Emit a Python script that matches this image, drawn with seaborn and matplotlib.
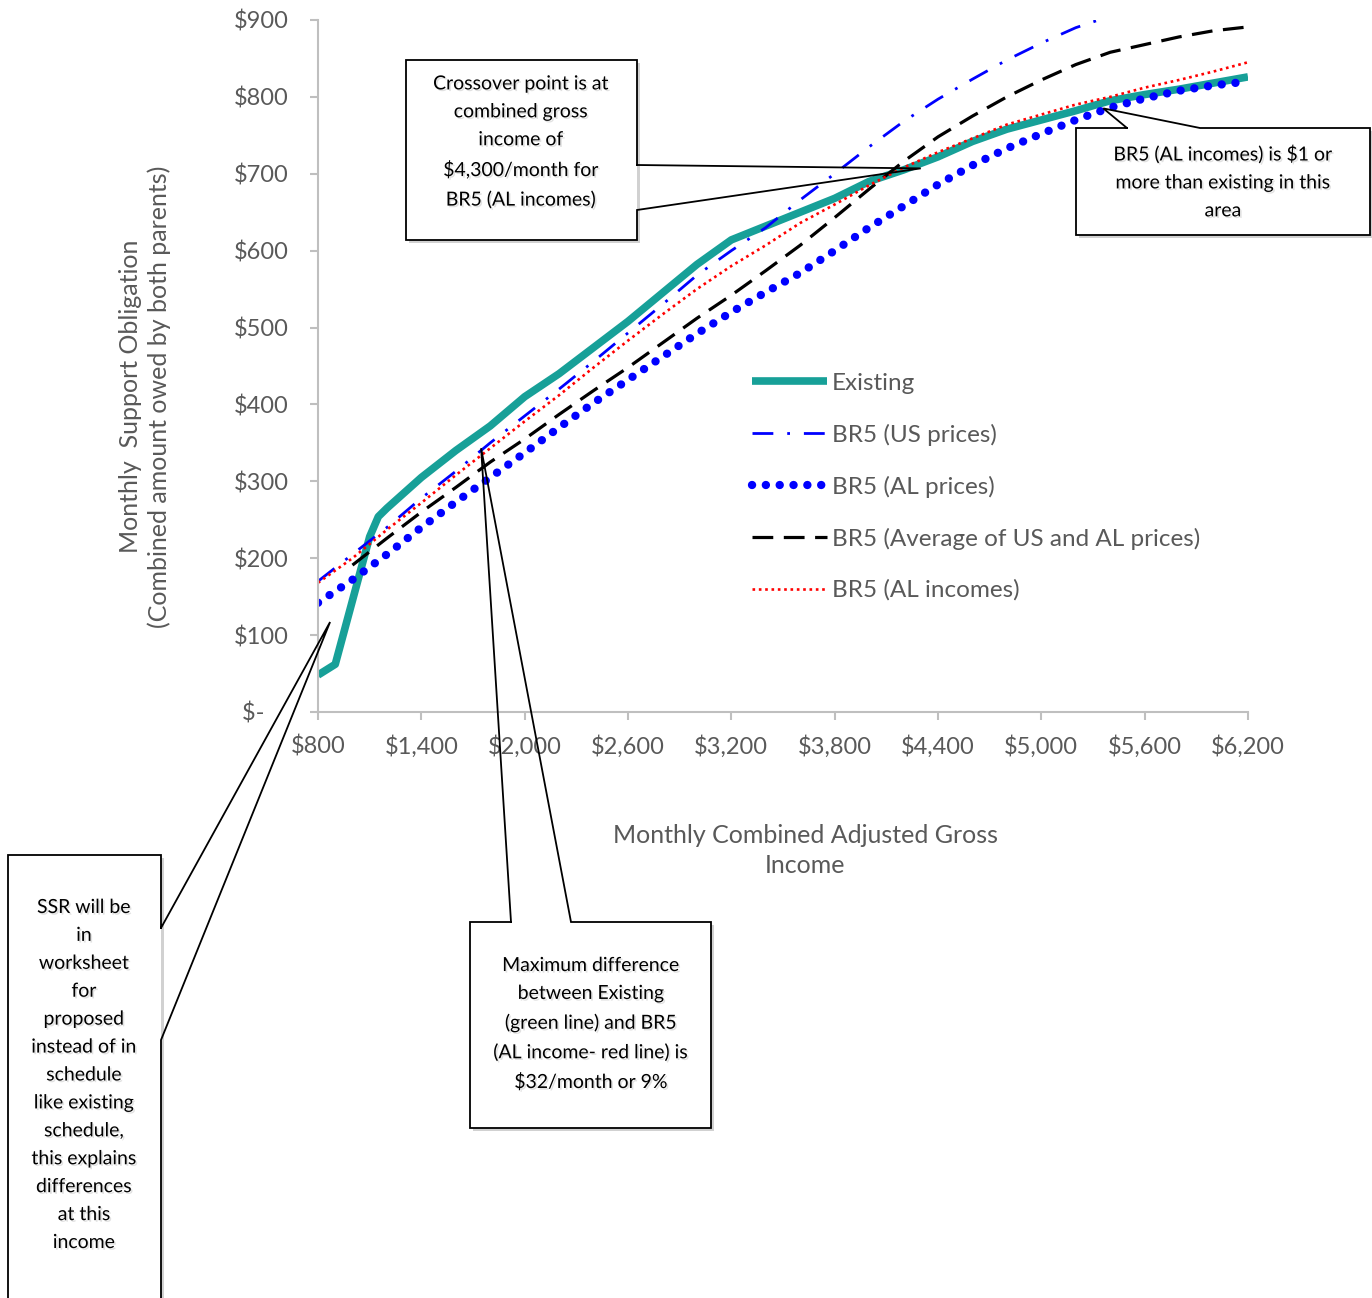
import numpy as np
import pandas as pd
import seaborn as sns
import matplotlib.pyplot as plt
import matplotlib.patheffects as pe
from matplotlib.patches import Rectangle

# monthly combined adjusted gross income
income = list(range(800, 6201, 200))
existing_income = [800, 900, 1000, 1100, 1150, 1200] + list(range(1400, 6201, 200))
avg_income = list(range(1000, 6201, 200))

existing = [48, 62, 145, 228, 254, 265, 305, 340, 372, 410, 440, 474, 508, 545, 582,
            614, 632, 650, 668, 690, 705, 722, 742, 758, 770, 782, 795, 803, 810, 818, 826]
us_prices = [170, 205, 240, 278, 313, 350, 385, 420, 456, 493, 530, 568, 600, 630, 666,
             700, 735, 768, 797, 823, 848, 870, 890, 905, 920, 935, 948, 960]
al_prices = [142, 172, 205, 240, 273, 305, 337, 370, 402, 432, 462, 492, 520, 546, 571,
             600, 630, 658, 686, 711, 733, 752, 770, 786, 798, 808, 815, 820]
avg_prices = [191, 226, 260, 292, 325, 355, 387, 418, 448, 480, 512, 542, 574, 607, 643,
              680, 716, 748, 775, 800, 822, 842, 858, 868, 878, 886, 891]
al_incomes = [168, 200, 237, 272, 308, 343, 378, 412, 448, 483, 517, 550, 580, 607, 636,
              660, 685, 708, 728, 746, 764, 777, 790, 800, 812, 822, 833, 845]

xticks = list(range(800, 6201, 600))
yticks = list(range(0, 901, 100))

sns.set_theme(style="ticks")
plt.rcParams['font.family'] = ['Lato', 'DejaVu Sans']
grey = '#595959'

fig = plt.figure(figsize=(13.72, 12.98), dpi=100)
ax = fig.add_axes([0.2318, 0.4515, 0.6778, 0.5331])

sns.lineplot(x=existing_income, y=existing, ax=ax, color='#17a098', lw=5.5,
             label='Existing', solid_capstyle='butt')
sns.lineplot(x=income, y=us_prices, ax=ax, color='#0000ff', lw=2,
             linestyle=(0, (7.5, 5, 1, 5)), label='BR5 (US prices)')
sns.lineplot(x=income, y=al_prices, ax=ax, color='#0000ff', lw=6,
             linestyle=(0, (0.01, 1.65)), dash_capstyle='round', label='BR5 (AL prices)')
sns.lineplot(x=avg_income, y=avg_prices, ax=ax, color='black', lw=2.3,
             linestyle=(0, (6.5, 3.3)), label='BR5 (Average of US and AL prices)')
sns.lineplot(x=income, y=al_incomes, ax=ax, color='#ff0000', lw=1.9,
             linestyle=(0, (1, 1.4)), label='BR5 (AL incomes)')

ax.set_xlim(800, 6200)
ax.set_ylim(0, 900)
ax.set_xticks(xticks)
ax.set_xticklabels(['$' + format(v, ',') for v in xticks])
ax.set_yticks(yticks)
ax.set_yticklabels(['$-    ' if v == 0 else '$' + str(v) for v in yticks])
sns.despine(ax=ax)
for s in ['left', 'bottom']:
    ax.spines[s].set_color('#bfbfbf')
    ax.spines[s].set_linewidth(1.5)
ax.tick_params(axis='both', color='#bfbfbf', labelcolor=grey, labelsize=17,
               length=6, width=1.5)
ax.tick_params(axis='y', pad=15)
ax.tick_params(axis='x', pad=11)

ax.set_ylabel('Monthly  Support Obligation\n(Combined amount owed by both parents)',
              fontsize=18, color=grey, va='center', linespacing=1.3)
ax.yaxis.set_label_coords(-0.186, 0.456)
ax.set_xlabel('Monthly Combined Adjusted Gross\nIncome', fontsize=18, color=grey,
              va='center', linespacing=1.4)
ax.xaxis.set_label_coords(0.524, -0.2)

leg = ax.legend(loc='upper left', bbox_to_anchor=(0.443, 0.522), frameon=False,
                fontsize=17.5, handlelength=3.1, handletextpad=0.2, labelspacing=1.23)
for t in leg.get_texts():
    t.set_color(grey)

# overlay in pixel coordinates for the callouts
ov = fig.add_axes([0, 0, 1, 1], zorder=10)
ov.set_xlim(0, 1372)
ov.set_ylim(1298, 0)
ov.axis('off')
ov.patch.set_alpha(0)

text_fx = [pe.SimplePatchShadow(offset=(1.2, -1.2), shadow_rgbFace='#aaaaaa', alpha=0.35),
           pe.Normal()]


def px(x, y):
    dx, dy = ax.transData.transform((x, y))
    return dx, 1298 - dy


def callout(box, outline, text, cx, cy, fs=14, ls=1.78):
    x0, y0, x1, y1 = box
    ov.add_patch(Rectangle((x0 + 3, y0 + 3), x1 - x0, y1 - y0, fc='#9a9a9a', ec='none', alpha=0.45))
    ov.add_patch(Rectangle((x0, y0), x1 - x0, y1 - y0, fc='white', ec='none'))
    xs, ys = zip(*outline)
    ov.plot(xs, ys, color='black', lw=1.3, solid_joinstyle='miter')
    ov.text(cx, cy, text, ha='center', va='center', fontsize=fs, color='black',
            linespacing=ls, path_effects=text_fx)


tx, ty = px(4300, 707)
callout((406, 60, 637, 240),
        [(637, 165), (tx, ty), (637, 210), (637, 240), (406, 240), (406, 60), (637, 60), (637, 165)],
        'Crossover point is at\ncombined gross\nincome of\n$4,300/month for\nBR5 (AL incomes)',
        521, 142)

tx, ty = px(5360, 785)
callout((1076, 128, 1370, 235),
        [(1127, 128), (tx, ty), (1200, 128), (1370, 128), (1370, 235), (1076, 235), (1076, 128), (1127, 128)],
        'BR5 (AL incomes) is $1 or\nmore than existing in this\narea', 1223, 182)

tx, ty = px(1747, 343)
callout((470, 922, 711, 1128),
        [(511, 922), (tx, ty), (571, 922), (711, 922), (711, 1128), (470, 1128), (470, 922), (511, 922)],
        'Maximum difference\nbetween Existing\n(green line) and BR5\n(AL income- red line) is\n$32/month or 9%',
        591, 1024)

tx, ty = px(870, 117)
callout((8, 855, 161, 1310),
        [(161, 928), (tx, ty), (161, 1040), (161, 1310), (8, 1310), (8, 855), (161, 855), (161, 928)],
        'SSR will be\nin\nworksheet\nfor\nproposed\ninstead of in\nschedule\nlike existing\nschedule,\nthis explains\ndifferences\nat this\nincome',
        84, 1075)

fig.savefig('out.png', dpi=100)
